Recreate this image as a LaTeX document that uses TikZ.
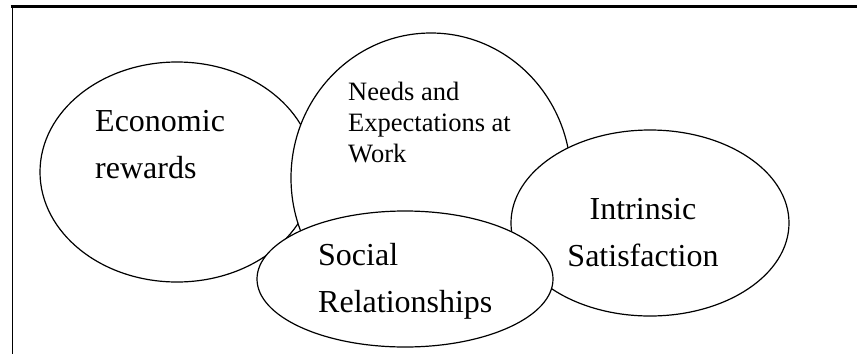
\documentclass[tikz,border=0pt]{standalone}
\usepackage{fontspec}
\setmainfont{Liberation Serif}
\usetikzlibrary{shapes.geometric}

\begin{document}
\begin{tikzpicture}[x=1pt, y=-1pt]
        % ================= 样式定义 =================
        \tikzset{
            % 椭圆样式:白底黑边
            bubble/.style={ellipse, draw=black, line width=1.2pt, fill=white, inner sep=0pt},
            % 大号文字
            bigtext/.style={inner sep=0pt, font=\fontsize{32}{47}\selectfont},
            % 小号文字 (中间椭圆)
            smalltext/.style={inner sep=0pt, font=\fontsize{26.5}{31}\selectfont}
        }
        \useasboundingbox (0,0) rectangle (857,354);

        % ================= 外框 (上边与左边) =================
        \draw[line width=2.2pt] (10.5,6.5) -- (857,6.5);
        \draw[line width=1.5pt] (12.5,5.4) -- (12.5,354);

        % ================= 四个椭圆 (后画的盖住先画的) =================
        \node[bubble, minimum width=274pt, minimum height=220pt] (econ) at (177,172) {};
        \node[bubble, minimum width=280pt, minimum height=290pt] (needs) at (431,178) {};
        \node[bubble, minimum width=278pt, minimum height=186pt] (intr) at (650,223) {};
        \node[bubble, minimum width=296pt, minimum height=136pt] (soc) at (405,279) {};

        % ================= 文字 (base 对齐最后一行) =================
        \node[bigtext, align=left, anchor=base west] (econtext) at (95,178) {Economic\\rewards};
        \node[smalltext, align=left, anchor=base west] (needstext) at (348,162) {Needs and\\Expectations at\\Work};
        \node[bigtext, align=center, anchor=base] (intrtext) at (643,266) {Intrinsic\\Satisfaction};
        \node[bigtext, align=left, anchor=base west] (soctext) at (318,312) {Social\\Relationships};

    \end{tikzpicture}
\end{document}
